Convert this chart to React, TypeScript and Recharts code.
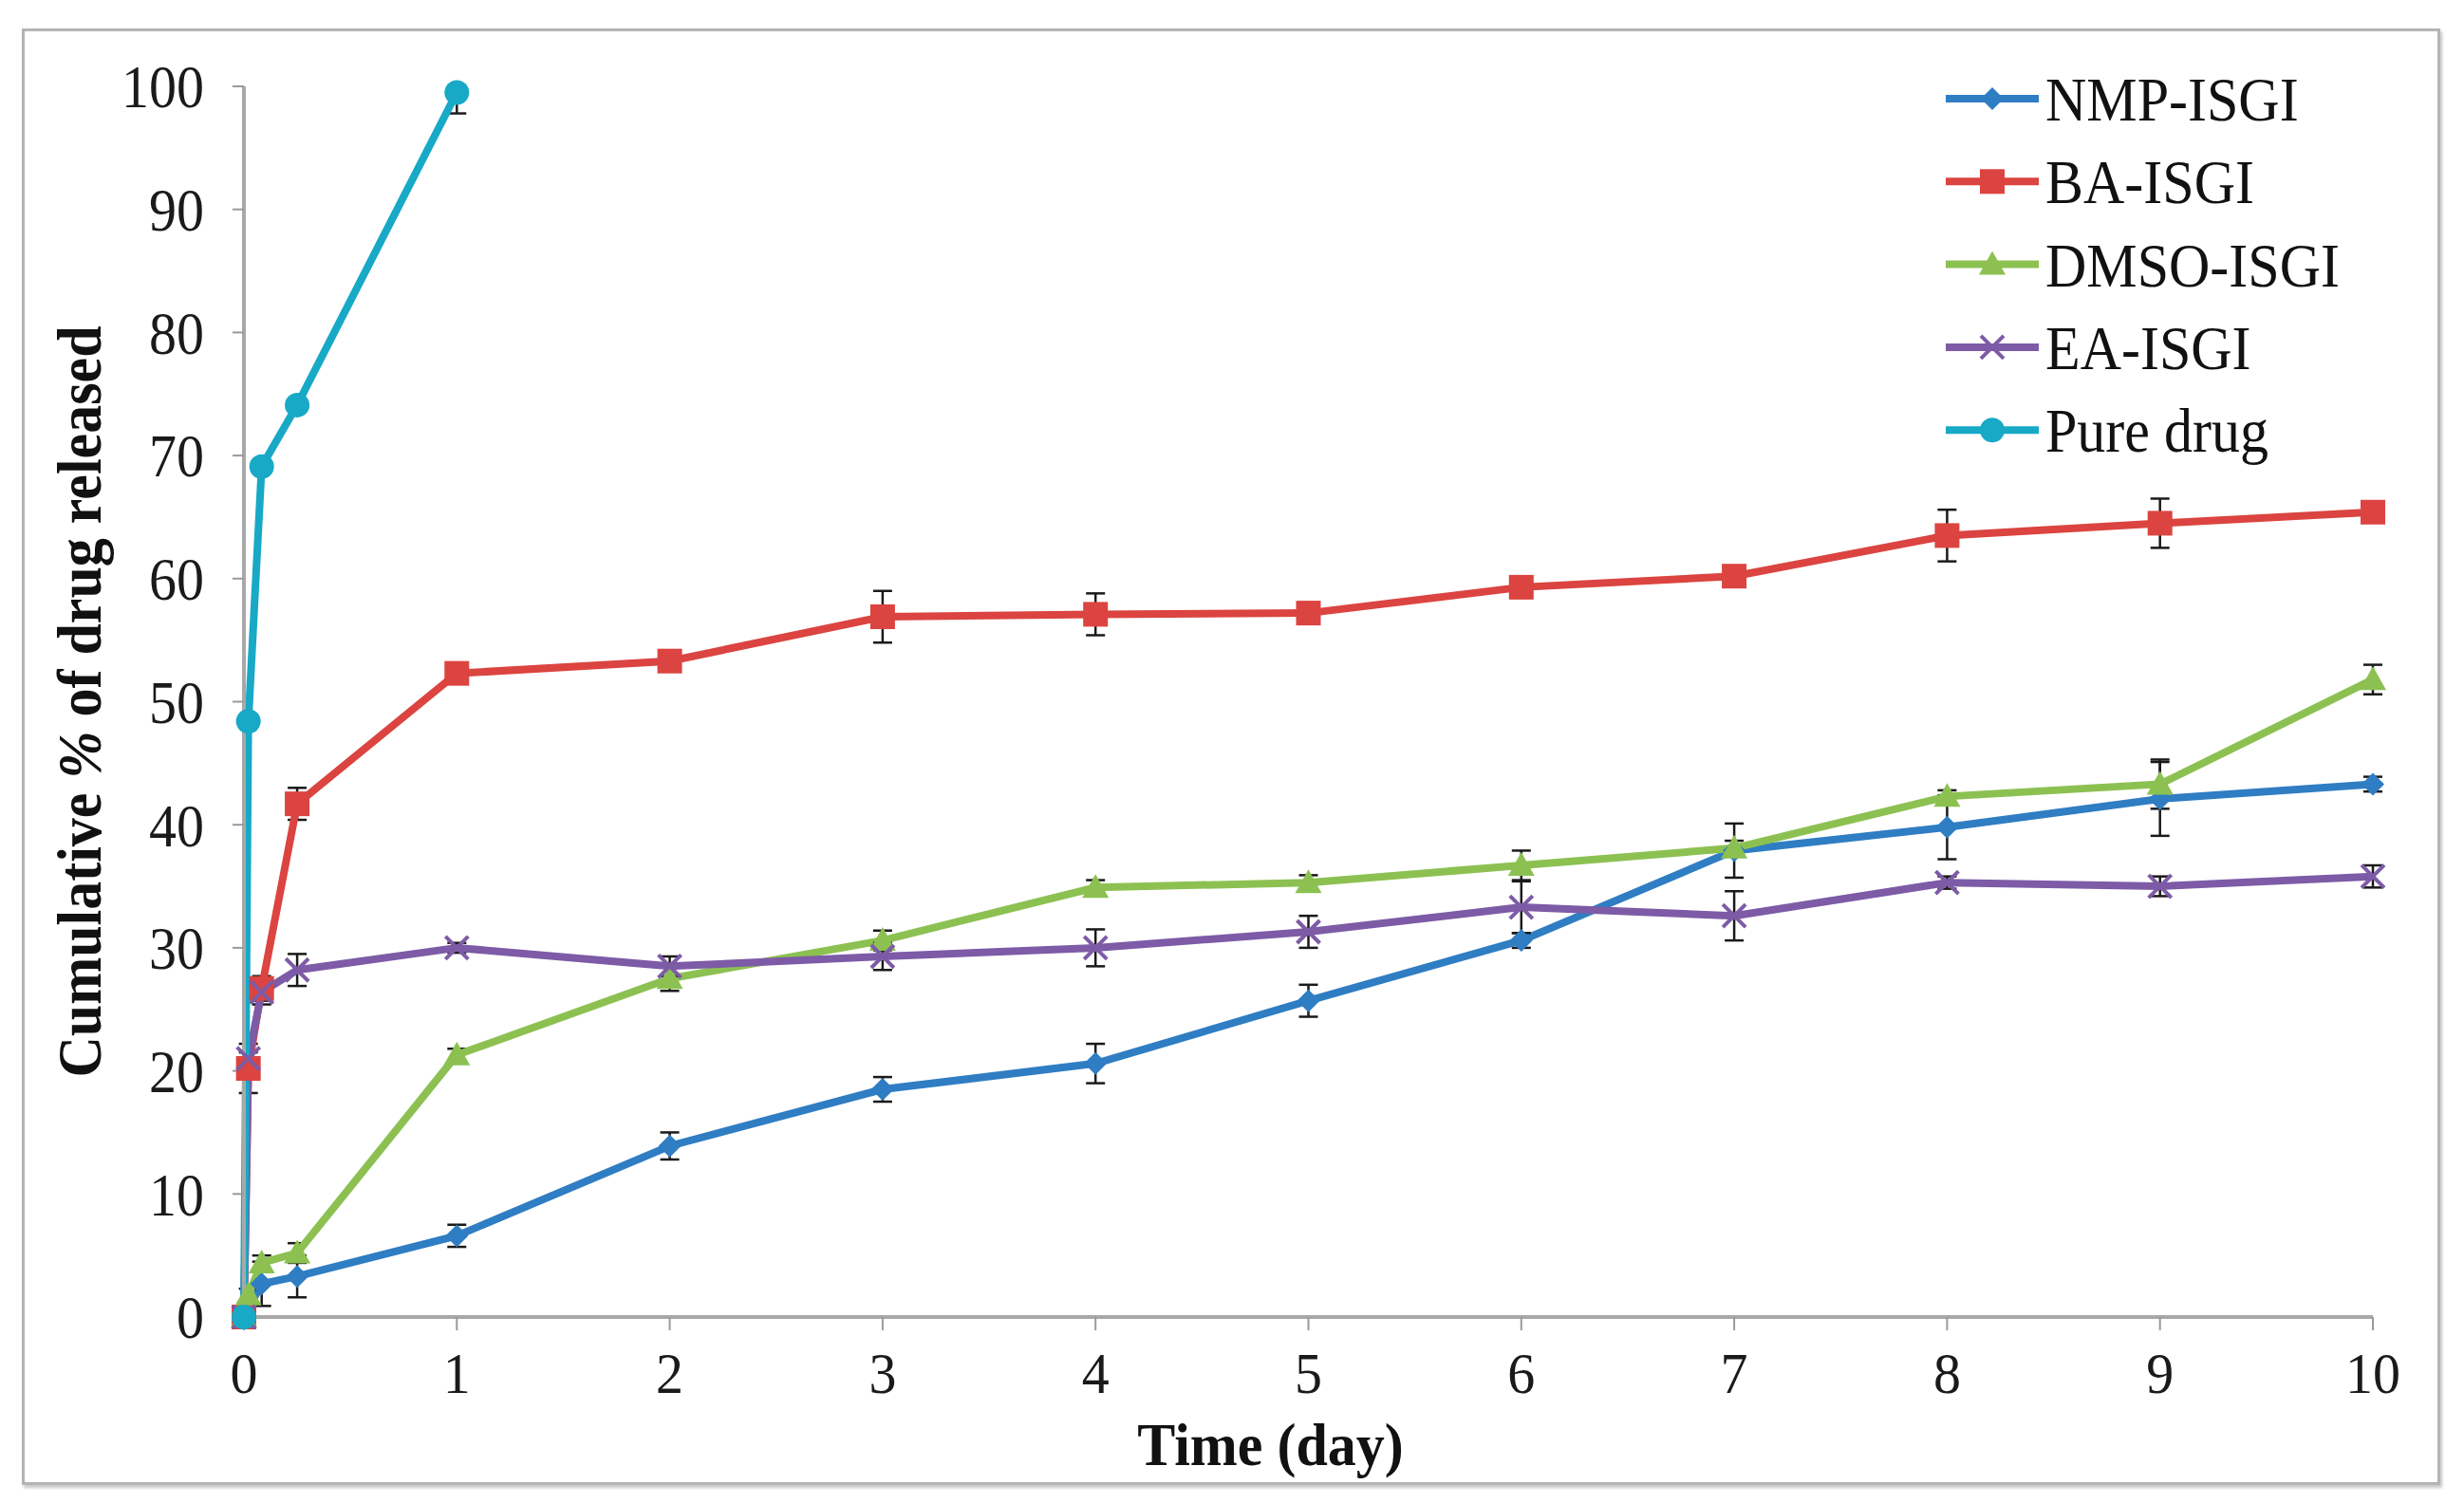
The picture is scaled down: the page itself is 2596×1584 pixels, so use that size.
import React from 'react';
import { LineChart, Line, XAxis, YAxis, ErrorBar, Legend } from 'recharts';

const CHART_W = 2596;
const CHART_H = 1584;
const SERIF = '"Liberation Serif", "Times New Roman", Times, serif';
const STRETCH = 1.1;

const X_TICKS = [0, 1, 2, 3, 4, 5, 6, 7, 8, 9, 10];
const Y_TICKS = [0, 10, 20, 30, 40, 50, 60, 70, 80, 90, 100];

// Time points (day)
const NMP_TIME = [0, 0.0833, 0.25, 1, 2, 3, 4, 5, 6, 7, 8, 9, 10];
const NMP_VALUE = [0, 2.7, 3.3, 6.6, 13.9, 18.5, 20.6, 25.7, 30.6, 37.9, 39.8, 42.1, 43.3];
const NMP_ERROR = [0, 1.8, 1.7, 0.9, 1.1, 1.0, 1.6, 1.3, 0.6, 2.2, 2.6, 3.0, 0.6];

const BA_TIME = [0, 0.0208, 0.0833, 0.25, 1, 2, 3, 4, 5, 6, 7, 8, 9, 10];
const BA_VALUE = [0, 20.2, 26.7, 41.7, 52.3, 53.3, 56.9, 57.1, 57.2, 59.3, 60.2, 63.5, 64.5, 65.4];
const BA_ERROR = [0, 2.0, 1.0, 1.3, 0.5, 0.8, 2.1, 1.7, 0.5, 0.5, 0.5, 2.1, 2.0, 0.5];

const DMSO_TIME = [0, 0.0208, 0.0833, 0.25, 1, 2, 3, 4, 5, 6, 7, 8, 9, 10];
const DMSO_VALUE = [0, 1.8, 4.4, 5.2, 21.3, 27.5, 30.6, 34.9, 35.3, 36.7, 38.1, 42.3, 43.3, 51.8];
const DMSO_ERROR = [0, 0.5, 0.6, 0.8, 0.5, 1.0, 0.8, 0.6, 0.6, 1.2, 0.6, 0.5, 2.0, 1.2];

const EA_TIME = [0, 0.0208, 0.0833, 0.25, 1, 2, 3, 4, 5, 6, 7, 8, 9, 10];
const EA_VALUE = [0, 21.0, 26.4, 28.2, 30.0, 28.5, 29.3, 30.0, 31.3, 33.3, 32.6, 35.3, 35.0, 35.8];
const EA_ERROR = [0, 0.5, 1.0, 1.3, 0.4, 0.8, 1.1, 1.5, 1.3, 2.1, 2.0, 0.5, 0.8, 0.9];

const PURE_TIME = [0, 0.0208, 0.0833, 0.25, 1];
const PURE_VALUE = [0, 48.4, 69.1, 74.1, 99.5];
const PURE_ERROR = [[0, 0], [0.5, 0.5], [0.5, 0.5], [0.5, 0.5], [1.7, 0.5]];

const build = (t: number[], v: number[], e: any[]) =>
  t.map((x, i) => ({ t: x, v: v[i], e: e[i] }));

type Shape = 'diamond' | 'square' | 'triangle' | 'cross' | 'circle';

const SERIES: { name: string; color: string; shape: Shape; data: any[] }[] = [
  { name: 'NMP-ISGI', color: '#2F7DC3', shape: 'diamond', data: build(NMP_TIME, NMP_VALUE, NMP_ERROR) },
  { name: 'BA-ISGI', color: '#DB4440', shape: 'square', data: build(BA_TIME, BA_VALUE, BA_ERROR) },
  { name: 'DMSO-ISGI', color: '#8CC152', shape: 'triangle', data: build(DMSO_TIME, DMSO_VALUE, DMSO_ERROR) },
  { name: 'EA-ISGI', color: '#7D5BA6', shape: 'cross', data: build(EA_TIME, EA_VALUE, EA_ERROR) },
  { name: 'Pure drug', color: '#17A9C6', shape: 'circle', data: build(PURE_TIME, PURE_VALUE, PURE_ERROR) },
];

const Marker = ({ shape, color, cx, cy }: { shape: Shape; color: string; cx: number; cy: number }) => {
  switch (shape) {
    case 'diamond':
      return <polygon points={`${cx},${cy - 12} ${cx + 12},${cy} ${cx},${cy + 12} ${cx - 12},${cy}`} fill={color} />;
    case 'square':
      return <rect x={cx - 13} y={cy - 13} width={26} height={26} fill={color} />;
    case 'triangle':
      return <polygon points={`${cx},${cy - 14} ${cx + 14},${cy + 11} ${cx - 14},${cy + 11}`} fill={color} />;
    case 'cross':
      return (
        <g stroke={color} strokeWidth={4}>
          <line x1={cx - 12} y1={cy - 12} x2={cx + 12} y2={cy + 12} />
          <line x1={cx - 12} y1={cy + 12} x2={cx + 12} y2={cy - 12} />
        </g>
      );
    default:
      return <circle cx={cx} cy={cy} r={13} fill={color} />;
  }
};

const makeDot = (shape: Shape, color: string) => (props: any) => {
  const { cx, cy, index } = props;
  if (cx == null || cy == null || isNaN(cx) || isNaN(cy)) return <g key={`dot-${shape}-${index}`} />;
  return (
    <g key={`dot-${shape}-${index}`}>
      <Marker shape={shape} color={color} cx={cx} cy={cy} />
    </g>
  );
};

const XTick = (props: any) => {
  const { x, y, payload } = props;
  return (
    <text
      transform={`translate(${x},${y - 2}) scale(1,1.05)`}
      textAnchor="middle"
      dy="0.71em"
      fontFamily={SERIF}
      fontSize={58}
      fill="#1a1a1a"
    >
      {payload.value}
    </text>
  );
};

const YTick = (props: any) => {
  const { x, y, payload } = props;
  return (
    <text
      transform={`translate(${x},${y}) scale(1,${STRETCH})`}
      textAnchor="end"
      dy="0.35em"
      fontFamily={SERIF}
      fontSize={58}
      fill="#1a1a1a"
    >
      {payload.value}
    </text>
  );
};

const XTitle = (props: any) => {
  const vb = props.viewBox || { x: 257, y: 1388, width: 2243, height: 196 };
  const x = vb.x + vb.width / 2 - 40;
  const y = vb.y + 156;
  return (
    <text
      transform={`translate(${x},${y}) scale(1,1.05)`}
      textAnchor="middle"
      fontFamily={SERIF}
      fontWeight="bold"
      fontSize={60}
      fill="#111"
    >
      Time (day)
    </text>
  );
};

const YTitle = (props: any) => {
  const vb = props.viewBox || { x: 0, y: 91, width: 257, height: 1297 };
  const x = vb.x + 106;
  const y = vb.y + vb.height / 2;
  return (
    <text
      transform={`translate(${x},${y}) rotate(-90) scale(1,${STRETCH})`}
      textAnchor="middle"
      fontFamily={SERIF}
      fontWeight="bold"
      fontSize={60}
      fill="#111"
    >
      Cumulative <tspan fontStyle="italic">%</tspan> of drug released
    </text>
  );
};

const LegendContent = () => (
  <svg width={540} height={460} style={{ overflow: 'visible', display: 'block' }}>
    {SERIES.map((s, i) => {
      const cy = 54 + i * 87.3;
      return (
        <g key={s.name}>
          <line x1={10} y1={cy} x2={108} y2={cy} stroke={s.color} strokeWidth={8} />
          <Marker shape={s.shape} color={s.color} cx={59} cy={cy} />
          <text
            transform={`translate(115,${cy}) scale(1,${STRETCH})`}
            dy="0.35em"
            fontFamily={SERIF}
            fontSize={60}
            fill="#111"
          >
            {s.name}
          </text>
        </g>
      );
    })}
  </svg>
);

export default function App() {
  return (
    <div style={{ position: 'absolute', left: 0, top: 0, width: CHART_W, height: CHART_H, background: '#fff' }}>
      <div
        style={{
          position: 'absolute',
          left: 23,
          top: 30,
          width: 2548,
          height: 1535,
          boxSizing: 'border-box',
          border: '3px solid #B4B4B4',
          boxShadow: '2px 3px 3px rgba(0,0,0,0.22)',
        }}
      />
      <div style={{ position: 'absolute', left: 0, top: 0 }}>
        <LineChart width={CHART_W} height={CHART_H} margin={{ top: 91, right: 96, left: 0, bottom: 0 }}>
          <XAxis
            dataKey="t"
            type="number"
            domain={[0, 10]}
            ticks={X_TICKS}
            height={196}
            axisLine={{ stroke: '#A8A8A8', strokeWidth: 4 }}
            tickLine={{ stroke: '#9A9A9A', strokeWidth: 2 }}
            tickSize={14}
            tickMargin={25}
            tick={<XTick />}
            label={XTitle}
          />
          <YAxis
            type="number"
            domain={[0, 100]}
            ticks={Y_TICKS}
            width={257}
            axisLine={{ stroke: '#A8A8A8', strokeWidth: 4 }}
            tickLine={{ stroke: '#9A9A9A', strokeWidth: 2 }}
            tickSize={12}
            tickMargin={30}
            tick={<YTick />}
            label={YTitle}
          />
          <Legend
            layout="vertical"
            align="center"
            verticalAlign="middle"
            content={<LegendContent />}
            wrapperStyle={{ position: 'absolute', left: 2040, top: 50, width: 540, height: 460 }}
          />
          {SERIES.map((s) => (
            <Line
              key={s.name}
              name={s.name}
              data={s.data}
              dataKey="v"
              type="linear"
              stroke={s.color}
              strokeWidth={8}
              dot={makeDot(s.shape, s.color)}
              activeDot={false}
              isAnimationActive={false}
            >
              <ErrorBar dataKey="e" direction="y" width={10} stroke="#1a1a1a" strokeWidth={2.5} isAnimationActive={false} />
            </Line>
          ))}
        </LineChart>
      </div>
    </div>
  );
}
